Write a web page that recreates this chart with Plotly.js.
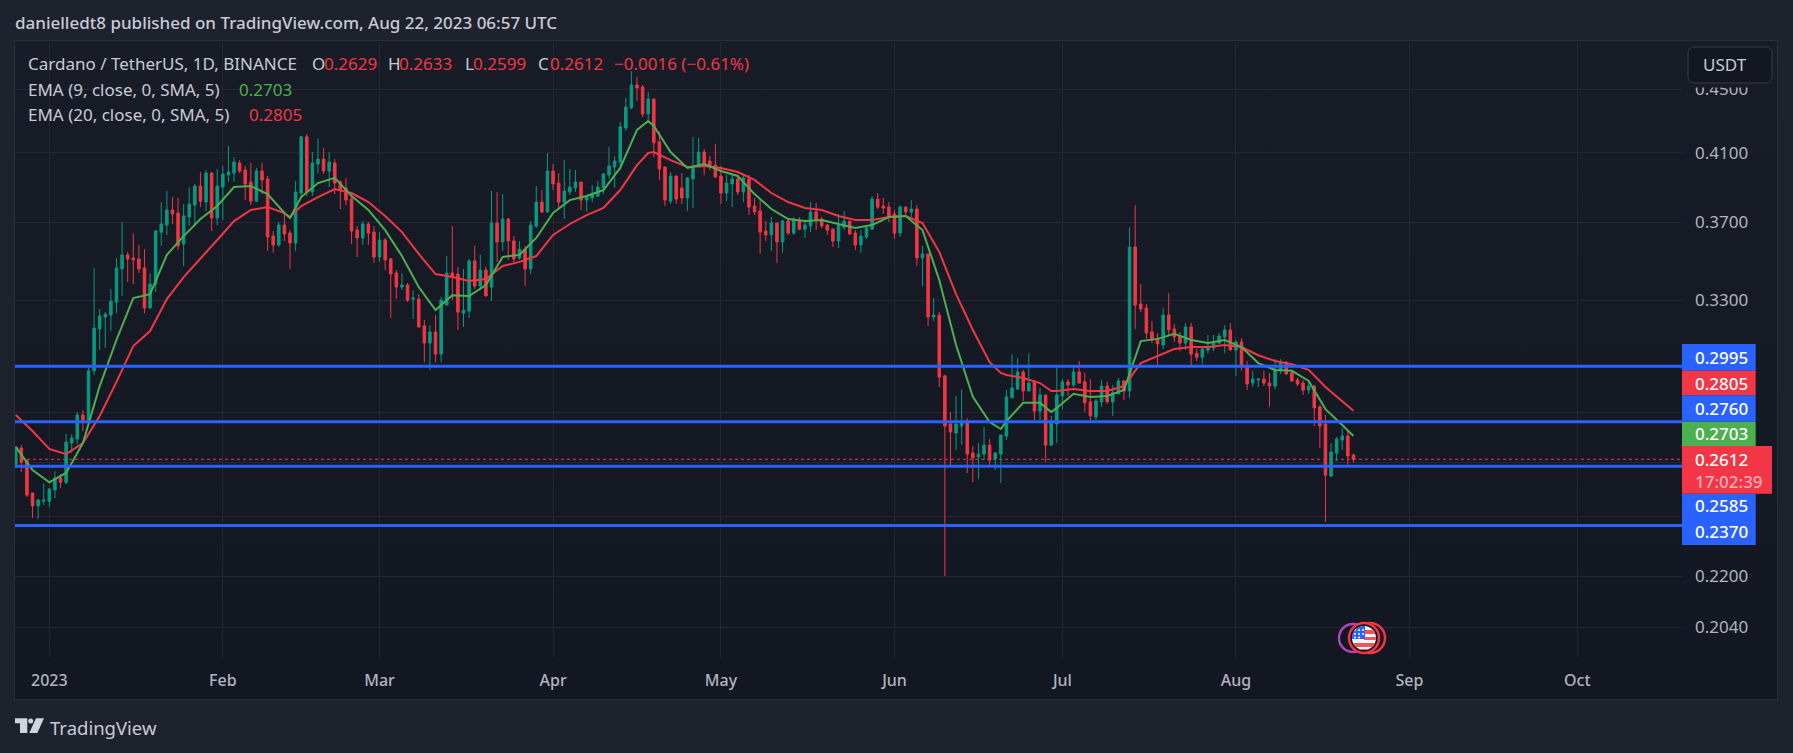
<!DOCTYPE html>
<html><head><meta charset="utf-8">
<script src="https://cdn.plot.ly/plotly-3.0.1.min.js"></script>
<style>
html,body{margin:0;padding:0;background:#1e222d;overflow:hidden}
#pane{position:absolute;left:14px;top:40px;width:1762px;height:658px;border:1px solid #2a2e39;background:linear-gradient(to bottom,#181c27,#131722)}
#chart{position:absolute;left:0;top:0;width:1793px;height:753px}
</style></head><body>
<div id="pane"></div><div id="chart"></div>
<script>
const firstDay = '2022-12-26';
const open = [.2582,.2656,.2607,.2486,.2439,.2456,.2456,.2497,.2541,.2525,
.2675,.2691,.2788,.2755,.2975,.3164,.3220,.3229,.3291,.3456,
.3528,.3512,.3507,.3461,.3263,.3380,.3648,.3686,.3769,.3752,
.3585,.3730,.3796,.3904,.3813,.3979,.3725,.3898,.3968,.3979,
.4038,.3997,.3927,.3818,.3991,.3945,.3627,.3580,.3686,.3643,
.3590,.3864,.4197,.3870,.4032,.4062,.3991,.4038,.3927,.3893,
.3830,.3659,.3617,.3692,.3648,.3517,.3606,.3507,.3435,.3365,
.3375,.3306,.3306,.3178,.3099,.3150,.3049,.3277,.3435,.3430,
.3238,.3248,.3497,.3370,.3450,.3365,.3697,.3596,.3719,.3601,
.3512,.3558,.3456,.3681,.3813,.3758,.3991,.3921,.3813,.3870,
.3893,.3927,.3824,.3836,.3847,.3893,.3968,.4015,.4044,.4252,
.4379,.4530,.4516,.4340,.4437,.4166,.4015,.3818,.3962,.3893,
.3836,.3945,.4015,.4104,.4050,.4026,.3962,.3864,.3916,.3945,
.3870,.3945,.3791,.3763,.3654,.3633,.3697,.3596,.3708,.3643,
.3714,.3664,.3681,.3758,.3719,.3686,.3664,.3601,.3675,.3708,
.3643,.3580,.3622,.3664,.3830,.3791,.3785,.3747,.3643,.3785,
.3758,.3774,.3512,.3533,.3220,.3229,.2953,.2751,.2715,.2743,
.2755,.2636,.2621,.2632,.2667,.2613,.2632,.2703,.2859,.2896,
.2970,.2888,.2927,.2804,.2871,.2667,.2751,.2867,.2927,.2914,
.2970,.2927,.2842,.2780,.2842,.2909,.2842,.2876,.2931,.2888,
.3569,.3282,.3263,.3150,.3118,.3090,.3229,.3164,.3131,.3099,
.3173,.3053,.3035,.3067,.3076,.3099,.3127,.3159,.3067,.3104,
.2996,.2922,.2935,.2939,.2922,.2909,.2975,.3013,.2966,.2935,
.2922,.2892,.2909,.2821,.2751,.2548,.2636,.2687,.2703,.2629];
const high = [.2660,.2667,.2609,.2486,.2464,.2522,.2504,.2567,.2556,.2711,
.2711,.2800,.2808,.2988,.3461,.3258,.3243,.3355,.3512,.3703,
.3543,.3643,.3580,.3558,.3435,.3659,.3813,.3875,.3841,.3836,
.3802,.3898,.3916,.3985,.3997,.3985,.4003,.4020,.4142,.4074,
.4056,.4020,.4038,.4009,.4038,.3962,.3654,.3703,.3747,.3659,
.3933,.4203,.4215,.4104,.4190,.4130,.4104,.4062,.3939,.3951,
.3847,.3681,.3708,.3703,.3681,.3648,.3617,.3512,.3450,.3435,
.3385,.3350,.3330,.3206,.3182,.3229,.3316,.3522,.3681,.3466,
.3456,.3507,.3575,.3528,.3466,.3875,.3870,.3858,.3725,.3627,
.3601,.3575,.3708,.3904,.3881,.4098,.4032,.3979,.4056,.4003,
.3997,.3927,.3853,.3910,.3933,.3979,.4136,.4080,.4290,.4444,
.4623,.4583,.4530,.4483,.4437,.4228,.4015,.3985,.3962,.3979,
.3956,.4197,.4190,.4122,.4080,.4154,.4020,.3968,.3968,.3968,
.3974,.3968,.3836,.3830,.3708,.3730,.3697,.3714,.3719,.3730,
.3730,.3708,.3813,.3807,.3730,.3692,.3670,.3747,.3763,.3708,
.3659,.3659,.3681,.3847,.3864,.3836,.3813,.3769,.3796,.3785,
.3824,.3796,.3575,.3533,.3311,.3243,.2957,.2800,.2867,.2896,
.2775,.2663,.2675,.2739,.2691,.2640,.2707,.2892,.3049,.3031,
.2979,.3053,.2935,.2901,.2871,.2784,.3000,.2939,.2939,.2992,
.3018,.2966,.2939,.2855,.2935,.2927,.2914,.2944,.2935,.3675,
.3796,.3380,.3282,.3201,.3145,.3263,.3335,.3187,.3150,.3192,
.3192,.3072,.3076,.3136,.3136,.3145,.3182,.3192,.3113,.3122,
.3018,.2975,.2944,.2975,.2966,.3027,.3027,.3018,.2979,.2944,
.2935,.2931,.2914,.2829,.2788,.2675,.2699,.2735,.2727,.2633];
const low = [.2582,.2563,.2471,.2396,.2392,.2442,.2435,.2467,.2504,.2518,
.2636,.2671,.2723,.2755,.2957,.3067,.3076,.3154,.3238,.3321,
.3390,.3380,.3435,.3238,.3258,.3340,.3575,.3633,.3692,.3553,
.3471,.3681,.3681,.3785,.3763,.3654,.3686,.3714,.3927,.3927,
.3979,.3824,.3796,.3818,.3858,.3548,.3538,.3569,.3601,.3456,
.3548,.3836,.3847,.3847,.3979,.3974,.3898,.3858,.3774,.3796,
.3585,.3517,.3580,.3580,.3487,.3492,.3450,.3215,.3306,.3350,
.3291,.3211,.3173,.3013,.2979,.3013,.3013,.3277,.3301,.3159,
.3173,.3215,.3355,.3350,.3321,.3296,.3492,.3548,.3502,.3492,
.3502,.3370,.3430,.3670,.3752,.3752,.3881,.3769,.3719,.3853,
.3870,.3769,.3758,.3813,.3841,.3858,.3945,.3893,.3997,.4234,
.4372,.4424,.4321,.4296,.4074,.3939,.3791,.3802,.3802,.3802,
.3763,.3780,.4015,.3968,.3997,.3951,.3802,.3818,.3785,.3853,
.3813,.3741,.3741,.3533,.3601,.3548,.3487,.3538,.3633,.3633,
.3659,.3617,.3648,.3659,.3670,.3633,.3569,.3564,.3659,.3633,
.3553,.3538,.3611,.3664,.3774,.3747,.3703,.3611,.3622,.3730,
.3730,.3471,.3370,.3178,.3201,.2905,.2200,.2590,.2648,.2667,
.2560,.2525,.2537,.2609,.2590,.2571,.2522,.2687,.2859,.2896,
.2846,.2888,.2767,.2767,.2601,.2667,.2675,.2812,.2867,.2905,
.2922,.2800,.2763,.2767,.2821,.2834,.2784,.2876,.2850,.2859,
.3164,.3243,.3118,.3099,.3000,.3072,.3131,.3104,.3062,.3067,
.3000,.3018,.3004,.3053,.3062,.3095,.3053,.3067,.2953,.2975,
.2892,.2905,.2905,.2909,.2821,.2896,.2961,.2961,.2927,.2909,
.2871,.2876,.2743,.2656,.2382,.2548,.2605,.2648,.2586,.2599];
const close = [.2660,.2601,.2478,.2439,.2460,.2460,.2500,.2541,.2525,.2679,
.2695,.2788,.2767,.2975,.3168,.3225,.3234,.3296,.3461,.3528,
.3507,.3502,.3456,.3263,.3380,.3654,.3692,.3769,.3747,.3575,
.3736,.3802,.3904,.3818,.3979,.3725,.3904,.3974,.3985,.4044,
.3991,.3916,.3818,.3991,.3939,.3622,.3580,.3686,.3638,.3590,
.3870,.4197,.3870,.4038,.4062,.3991,.4044,.3921,.3881,.3824,
.3654,.3617,.3692,.3643,.3517,.3606,.3502,.3430,.3365,.3375,
.3301,.3311,.3173,.3099,.3150,.3049,.3301,.3435,.3420,.3243,
.3253,.3497,.3370,.3450,.3321,.3697,.3596,.3719,.3601,.3507,
.3558,.3456,.3686,.3813,.3758,.3991,.3916,.3813,.3875,.3898,
.3927,.3824,.3841,.3858,.3898,.3974,.4020,.4050,.4259,.4385,
.4530,.4510,.4340,.4437,.4160,.4003,.3824,.3962,.3830,.3836,
.3951,.4020,.4104,.4032,.4020,.3956,.3864,.3921,.3945,.3870,
.3951,.3785,.3758,.3648,.3633,.3697,.3596,.3708,.3643,.3719,
.3664,.3686,.3758,.3714,.3681,.3659,.3601,.3686,.3708,.3638,
.3580,.3627,.3670,.3830,.3785,.3780,.3736,.3643,.3785,.3758,
.3774,.3512,.3533,.3220,.3229,.2948,.2743,.2719,.2751,.2755,
.2632,.2617,.2632,.2667,.2609,.2636,.2707,.2863,.2901,.2970,
.2888,.2922,.2804,.2871,.2667,.2759,.2871,.2927,.2914,.2970,
.2922,.2838,.2784,.2846,.2909,.2842,.2880,.2931,.2888,.3569,
.3277,.3258,.3145,.3118,.3095,.3229,.3159,.3127,.3099,.3173,
.3049,.3035,.3072,.3081,.3104,.3131,.3159,.3067,.3104,.2992,
.2918,.2939,.2939,.2922,.2909,.2979,.3013,.2961,.2931,.2918,
.2892,.2909,.2817,.2743,.2552,.2640,.2691,.2703,.2625,.2612];
const ema9 = [.2660,.2571,.2525,.2560,.2675,.2909,.3113,.3311,.3330,.3528,
.3627,.3719,.3791,.3898,.3904,.3858,.3752,.3725,.3841,.3921,.3951,
.3847,.3769,.3659,.3522,.3365,.3253,.3325,.3321,.3375,.3517,
.3528,.3617,.3752,.3824,.3847,.3881,.4009,.4240,.4296,.4265,.4104,
.4009,.4032,.3991,.3962,.3858,.3774,.3719,.3708,.3714,.3692,
.3670,.3686,.3730,.3736,.3659,.3400,.3090,.2863,.2759,.2731,.2763,
.2838,.2838,.2800,.2817,.2876,.2863,.2867,.2892,.3108,.3118,.3141,
.3113,.3099,.3113,.3081,.3009,.2979,.2975,.2931,.2812,.2747,.2703];
const ema20 = [.2788,.2723,.2652,.2632,.2675,.2784,.2927,.3085,.3154,.3306,
.3415,.3512,.3606,.3708,.3769,.3785,.3752,.3730,.3791,.3841,.3887,
.3864,.3813,.3736,.3648,.3533,.3430,.3415,.3395,.3405,.3471,
.3492,.3522,.3633,.3692,.3741,.3780,.3881,.4026,.4098,.4104,.4056,
.4015,.4020,.4009,.3985,.3939,.3864,.3813,.3780,.3769,.3736,
.3714,.3714,.3730,.3736,.3697,.3543,.3330,.3159,.3013,.2966,.2957,
.2944,.2922,.2888,.2888,.2896,.2888,.2888,.2909,.3009,.3040,.3072,
.3081,.3081,.3090,.3081,.3044,.3018,.3004,.2979,.2905,.2846,.2805];
const emaExtraDays = [49,113,176,185];
const levels = [.2995,.2760,.2585,.2370];
const lastPrice = .2612;
const gridPrices = [.45,.41,.37,.33,.30,.28,.26,.24,.22,.204];
const gridLabels = ['0.4500','0.4100','0.3700','0.3300','','','','','0.2200','0.2040'];
const monthDates = ['2023-01-01','2023-02-01','2023-03-01','2023-04-01','2023-05-01','2023-06-01','2023-07-01','2023-08-01','2023-09-01','2023-10-01'];
const monthLabels = ['2023','Feb','Mar','Apr','May','Jun','Jul','Aug','Sep','Oct'];

const C = {up:'#089981',down:'#f23645',green:'#4caf50',blue:'#2962ff',text:'#b2b5be',head:'#c8cbd5',grid:'#242733'};
const FONT = 'Noto Sans, sans-serif';
const L=15,R=1682,T=42,B=657;
const px = x => (x-L)/(R-L), py = y => 1-(y-T)/(B-T);
const dayStr = i => new Date(Date.parse(firstDay+'T00:00:00Z')+i*864e5).toISOString().slice(0,10);
const dates = open.map((_,i)=>dayStr(i));
const emaDays = Array.from({length:80},(_,k)=>k*3).concat(open.length-1,emaExtraDays).sort((a,b)=>a-b);
const emaDates = emaDays.map(dayStr);

const traces = [
 {type:'candlestick',x:dates,open:open,high:high,low:low,close:close,whiskerwidth:0,hoverinfo:'skip',showlegend:false,
  increasing:{line:{color:C.up,width:1},fillcolor:C.up},decreasing:{line:{color:C.down,width:1},fillcolor:C.down}},
 {type:'scatter',mode:'lines',x:emaDates,y:ema20,line:{color:C.down,width:2},hoverinfo:'skip',showlegend:false},
 {type:'scatter',mode:'lines',x:emaDates,y:ema9,line:{color:C.green,width:2},hoverinfo:'skip',showlegend:false}
];

const rectPx=(x0,y0,x1,y1,fill)=>({type:'rect',xref:'paper',yref:'paper',x0:px(x0),x1:px(x1),y0:py(y0),y1:py(y1),fillcolor:fill,line:{width:0},layer:'above'});
const polyPx=(pts,fill)=>({type:'path',xref:'paper',yref:'paper',path:'M'+pts.map(p=>px(p[0])+','+py(p[1])).join('L')+'Z',fillcolor:fill,line:{width:0},layer:'above'});
const shapes=[
 {type:'line',xref:'paper',x0:0,x1:1,yref:'y',y0:lastPrice,y1:lastPrice,line:{color:C.down,width:1,dash:'dot'},layer:'below'}
];
levels.forEach(v=>shapes.push({type:'line',xref:'paper',x0:0,x1:1,yref:'y',y0:v,y1:v,line:{color:C.blue,width:3},layer:'above'}));
// price tags
const tags=[['0.2995',344,370.7,C.blue,357.7],['0.2805',370.7,395.3,C.down,383],['0.2760',395.3,421.7,C.blue,408.3],['0.2703',421.7,446,C.green,433.7],['0.2585',493.7,518,C.blue,505.7],['0.2370',518,545,C.blue,531.3]];
tags.forEach(t=>shapes.push(rectPx(R,t[1],1755.7,t[2],t[3])));
shapes.push(rectPx(R,446,1772,493.7,C.down));
// mask round the currency button, then the button
shapes.push(rectPx(1684,60,1775,87.5,'#181c27'));
const bx0=1688,bx1=1772,by0=47,by1=83,r=6;
const rr=[];[[bx1-r,by0+r,-90],[bx1-r,by1-r,0],[bx0+r,by1-r,90],[bx0+r,by0+r,180]].forEach(c=>{
  for(let a=0;a<=90;a+=15){const t=(c[2]+a)*Math.PI/180;rr.push([c[0]+r*Math.cos(t),c[1]+r*Math.sin(t)]);}
});
shapes.push({type:'path',xref:'paper',yref:'paper',path:'M'+rr.map(p=>px(p[0])+','+py(p[1])).join('L')+'Z',fillcolor:'#131722',line:{color:'#363a45',width:1},layer:'above'});
// logo
shapes.push(polyPx([[15,718.3],[27.3,718.3],[27.3,733],[20,733],[20,723.3],[15,723.3]],'#d1d4dc'));
shapes.push(polyPx([[44,718.3],[37.3,733],[29.3,733],[36,718.3]],'#d1d4dc'));
shapes.push({type:'circle',xref:'paper',yref:'paper',x0:px(28.2),x1:px(33.2),y0:py(718.5),y1:py(723.5),fillcolor:'#d1d4dc',line:{width:0},layer:'above'});

const note=(text,x,y,size,color,weight)=>({text:text,xref:'paper',yref:'paper',x:px(x),y:py(y),xanchor:'left',yanchor:'middle',showarrow:false,borderpad:0,
  font:{family:FONT,size:size,color:color,weight:weight||400}});
const S=17;
const annotations=[
 note('danielledt8 published on TradingView.com, Aug 22, 2023 06:57 UTC',14,23,17,C.head,500),
 note('Cardano / TetherUS, 1D, BINANCE',27,63,S,C.head),
 note('O',311,63,S,C.head),note('0.2629',323,63,S,C.down),
 note('H',387,63,S,C.head),note('0.2633',398,63,S,C.down),
 note('L',464,63,S,C.head),note('0.2599',472,63,S,C.down),
 note('C',537,63,S,C.head),note('0.2612',549,63,S,C.down),
 note('−0.0016 (−0.61%)',613,63,S,C.down),
 note('EMA (9, close, 0, SMA, 5)',27,89,S,C.head),note('0.2703',238,89,S,C.green),
 note('EMA (20, close, 0, SMA, 5)',27,115,S,C.head),note('0.2805',248,115,S,C.down),
 note('USDT',1702,65,S,C.head),
 note('TradingView',49,727,18.5,C.head)
];
tags.forEach(t=>annotations.push(note(t[0],1694,t[4],S,'#ffffff',500)));
annotations.push(note('0.2612',1694,459.3,S,'#ffffff',500));
annotations.push(note('17:02:39',1694,481,S,'#fbb0b6',500));

const flagSvg=`<svg xmlns="http://www.w3.org/2000/svg" width="60" height="40" viewBox="0 0 60 40">
<defs><clipPath id="c"><circle cx="30" cy="20" r="12"/></clipPath></defs>
<g transform="translate(-3.5,0)">
<circle cx="19" cy="20" r="14" fill="#131722" stroke="#ab47bc" stroke-width="2.5"/>
<circle cx="36" cy="20" r="15" fill="#131722" stroke="#f23645" stroke-width="2.5"/>
<circle cx="30" cy="20" r="15" fill="#131722" stroke="#f23645" stroke-width="2.5"/>
<g clip-path="url(#c)"><rect x="17" y="7" width="26" height="26" fill="#f5f5fa"/>
<rect x="30" y="12" width="14" height="4" fill="#f0545c"/><rect x="30" y="19" width="14" height="3" fill="#f0545c"/><rect x="17" y="25" width="26" height="4" fill="#f0545c"/><rect x="17" y="31" width="26" height="3" fill="#f0545c"/>
<rect x="17" y="7" width="14" height="14" fill="#2962ff"/>
<g fill="#fff"><circle cx="21" cy="12" r="1"/><circle cx="25" cy="12" r="1"/><circle cx="29" cy="12" r="1"/><circle cx="21" cy="16" r="1"/><circle cx="25" cy="16" r="1"/><circle cx="29" cy="16" r="1"/><circle cx="21" cy="19.5" r="1"/><circle cx="25" cy="19.5" r="1"/></g></g>
</g></svg>`;

const layout={
 width:1793,height:753,autosize:false,paper_bgcolor:'rgba(0,0,0,0)',plot_bgcolor:'rgba(0,0,0,0)',showlegend:false,hovermode:false,dragmode:false,
 margin:{l:L,r:1793-R,t:T,b:753-B,pad:0},boxgap:0.55,boxgroupgap:0,
 font:{family:FONT,color:C.text},
 xaxis:{type:'date',range:['2022-12-25 20:50','2023-10-19 16:48'],rangeslider:{visible:false},tickmode:'array',tickvals:monthDates,ticktext:monthLabels,
   showgrid:true,gridcolor:C.grid,gridwidth:1,zeroline:false,showline:false,ticks:'',ticklabelstandoff:12,tickfont:{family:FONT,size:16,color:C.text,weight:500}},
 yaxis:{type:'log',side:'right',range:[Math.log10(.1953),Math.log10(.4825)],tickmode:'array',tickvals:gridPrices,ticktext:gridLabels,
   showgrid:true,gridcolor:C.grid,gridwidth:1,zeroline:false,showline:false,ticks:'',ticklabelstandoff:12,tickfont:{family:FONT,size:17,color:C.text}},
 shapes:shapes,annotations:annotations,
 images:[{source:'data:image/svg+xml;charset=utf-8,'+encodeURIComponent(flagSvg),xref:'paper',yref:'paper',x:px(1337.5),y:py(618),sizex:60/(R-L),sizey:40/(B-T),xanchor:'left',yanchor:'top',sizing:'stretch',layer:'above'}]
};
Plotly.newPlot('chart',traces,layout,{staticPlot:true,displayModeBar:false,responsive:false});
</script></body></html>
